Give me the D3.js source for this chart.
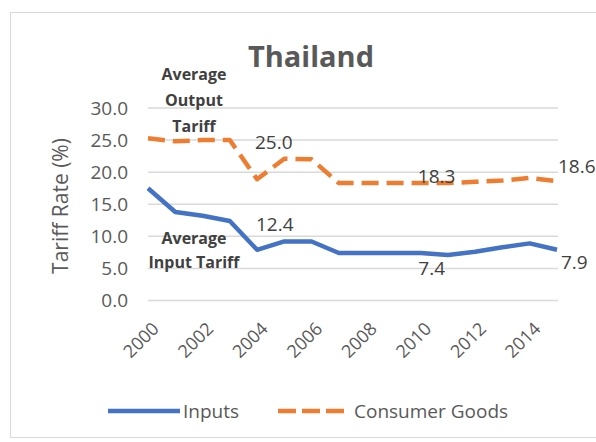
<!DOCTYPE html>
<html>
<head>
<meta charset="utf-8">
<script src="https://cdn.jsdelivr.net/npm/d3@7"></script>
<style>
  body { margin: 0; background: #fff; }
  svg text { font-family: "Open Sans", Lato, sans-serif; }
</style>
</head>
<body>
<div id="chart"></div>
<script>
var years = d3.range(2000, 2016);
var inputs = [17.5, 13.8, 13.2, 12.4, 7.9, 9.2, 9.2, 7.4, 7.4, 7.4, 7.4, 7.1, 7.6, 8.3, 8.9, 7.9];
var consumer = [25.3, 24.8, 25.0, 25.0, 18.9, 22.1, 22.0, 18.3, 18.3, 18.3, 18.3, 18.3, 18.5, 18.7, 19.1, 18.6];
var yTicks = [0, 5, 10, 15, 20, 25, 30];
var xTickYears = [2000, 2002, 2004, 2006, 2008, 2010, 2012, 2014];

var width = 596, height = 442;

var svg = d3.select("#chart").append("svg")
    .attr("width", width)
    .attr("height", height);

// outer chart border
svg.append("rect")
    .attr("x", 10.5).attr("y", 12.5)
    .attr("width", 600).attr("height", 425)
    .attr("fill", "#fff")
    .attr("stroke", "#d9d9d9");

var x = d3.scaleLinear().domain([2000, 2015]).range([148, 557]);
var y = d3.scaleLinear().domain([0, 30]).range([300.5, 108]);

// gridlines
svg.append("g").selectAll("line")
    .data(yTicks)
  .enter().append("line")
    .attr("x1", x(2000)).attr("x2", x(2015) + 1)
    .attr("y1", function(d) { return y(d); })
    .attr("y2", function(d) { return y(d); })
    .attr("stroke", "#d9d9d9")
    .attr("stroke-width", 1.5);

// y axis
var yAxis = svg.append("g")
    .attr("transform", "translate(" + (x(2000) - 8) + ",0)")
    .call(d3.axisLeft(y).tickValues(yTicks).tickFormat(d3.format(".1f")).tickSize(0).tickPadding(12));
yAxis.select(".domain").remove();
yAxis.selectAll("text")
    .attr("fill", "#595959")
    .style("font-size", "19px");

// x axis
var xAxis = svg.append("g")
    .attr("transform", "translate(0," + y(0) + ")")
    .call(d3.axisBottom(x).tickValues(xTickYears).tickFormat(d3.format("d")).tickSize(0));
xAxis.select(".domain").remove();
xAxis.selectAll("text")
    .attr("fill", "#595959")
    .style("font-size", "18px")
    .attr("text-anchor", "end")
    .attr("y", 0)
    .attr("dy", "0.35em")
    .attr("transform", "translate(7,25) rotate(-45)");

// axis title
svg.append("text")
    .attr("transform", "translate(68,206) rotate(-90)")
    .attr("text-anchor", "middle")
    .attr("fill", "#595959")
    .style("font-size", "21px")
    .text("Tariff Rate (%)");

// title
svg.append("text")
    .attr("x", 311).attr("y", 67)
    .attr("text-anchor", "middle")
    .attr("fill", "#595959")
    .style("font-size", "29px")
    .style("font-weight", "bold")
    .text("Thailand");

var line = d3.line()
    .x(function(d, i) { return x(years[i]); })
    .y(function(d) { return y(d); });

svg.append("path")
    .datum(consumer)
    .attr("d", line)
    .attr("fill", "none")
    .attr("stroke", "#ed7d31")
    .attr("stroke-width", 4.5)
    .attr("stroke-dasharray", "17,8")
    .attr("stroke-linejoin", "round");

svg.append("path")
    .datum(inputs)
    .attr("d", line)
    .attr("fill", "none")
    .attr("stroke", "#4472c4")
    .attr("stroke-width", 4.5)
    .attr("stroke-linejoin", "round");

// data labels
var labels = [
  {series: consumer, i: 3, dx: 44, dy: 9, anchor: "middle"},
  {series: inputs, i: 3, dx: 45, dy: 10, anchor: "middle"},
  {series: consumer, i: 10, dx: 16, dy: 0, anchor: "middle"},
  {series: inputs, i: 10, dx: 11, dy: 22, anchor: "middle"},
  {series: consumer, i: 15, dx: 1, dy: -8, anchor: "start"},
  {series: inputs, i: 15, dx: 4, dy: 19, anchor: "start"}
];
svg.append("g").selectAll("text")
    .data(labels)
  .enter().append("text")
    .attr("x", function(d) { return x(years[d.i]) + d.dx; })
    .attr("y", function(d) { return y(d.series[d.i]) + d.dy; })
    .attr("text-anchor", function(d) { return d.anchor; })
    .attr("fill", "#404040")
    .style("font-size", "19px")
    .text(function(d) { return d.series[d.i].toFixed(1); });

// annotations
function note(lines, cx, y0, step) {
  svg.append("g").selectAll("text")
      .data(lines)
    .enter().append("text")
      .attr("x", cx)
      .attr("y", function(d, i) { return y0 + i * step; })
      .attr("text-anchor", "middle")
      .attr("fill", "#404040")
      .style("font-size", "16px")
      .style("font-weight", "bold")
      .text(function(d) { return d; });
}
note(["Average", "Output", "Tariff"], 194, 80, 26);
note(["Average", "Input Tariff"], 194, 244, 24);

// legend
var legend = svg.append("g");
legend.append("line")
    .attr("x1", 108).attr("x2", 180).attr("y1", 411).attr("y2", 411)
    .attr("stroke", "#4472c4").attr("stroke-width", 4.5);
legend.append("text")
    .attr("x", 183).attr("y", 418)
    .attr("fill", "#595959").style("font-size", "19px")
    .text("Inputs");
legend.append("line")
    .attr("x1", 278).attr("x2", 348).attr("y1", 411).attr("y2", 411)
    .attr("stroke", "#ed7d31").attr("stroke-width", 4.5)
    .attr("stroke-dasharray", "18,6");
legend.append("text")
    .attr("x", 354).attr("y", 418)
    .attr("fill", "#595959").style("font-size", "19px")
    .text("Consumer Goods");
</script>
</body>
</html>
